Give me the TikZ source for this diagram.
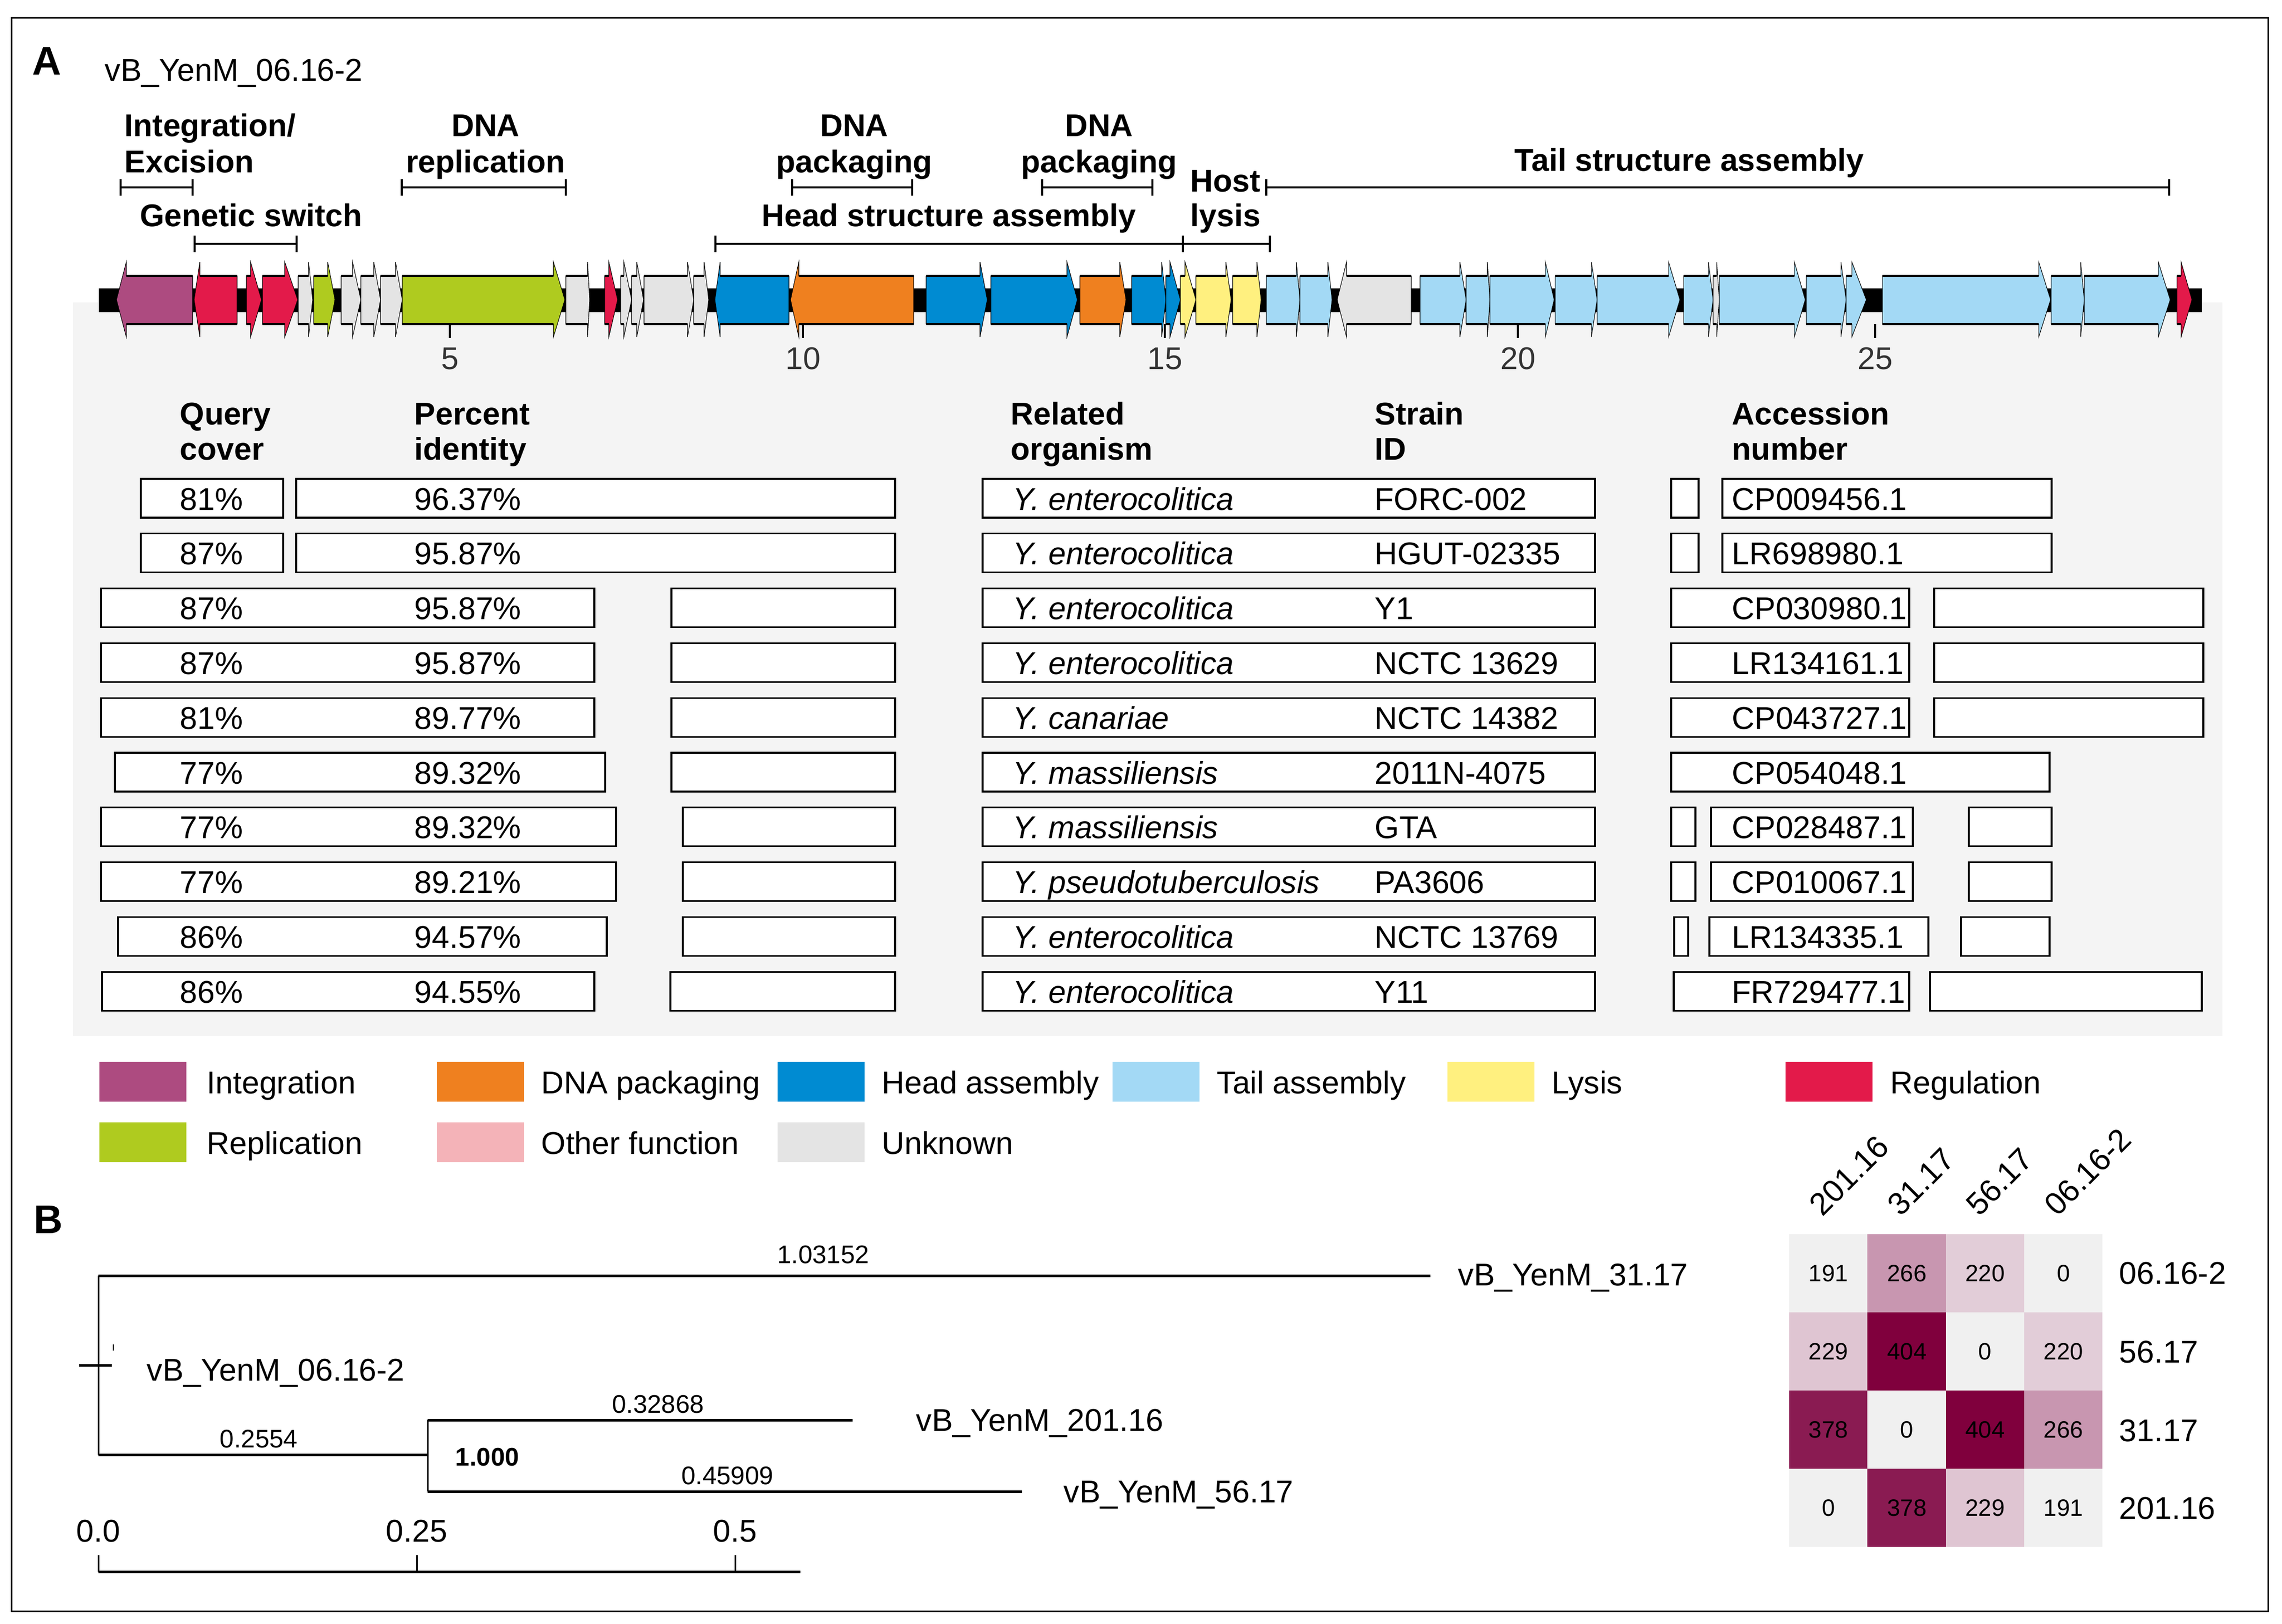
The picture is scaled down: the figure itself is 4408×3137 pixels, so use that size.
\documentclass[tikz,border=0pt]{standalone}
\usepackage{fontspec}
\setmainfont{Liberation Sans}
\definecolor{cInt}{HTML}{AD4B80}
\definecolor{cPack}{HTML}{EF801F}
\definecolor{cHead}{HTML}{008BD2}
\definecolor{cTail}{HTML}{A3D9F5}
\definecolor{cLys}{HTML}{FFF07F}
\definecolor{cReg}{HTML}{E31A4A}
\definecolor{cRep}{HTML}{AFCB1F}
\definecolor{cOth}{HTML}{F4B3B8}
\definecolor{cUnk}{HTML}{E4E4E4}
\definecolor{panelbg}{HTML}{F4F4F4}
\definecolor{hmZ}{HTML}{F0F0F0}
\definecolor{hmA}{HTML}{C896B0}
\definecolor{hmB}{HTML}{E2CDD8}
\definecolor{hmC}{HTML}{DFC5D2}
\definecolor{hmD}{HTML}{80003D}
\definecolor{hmE}{HTML}{8A1B52}
\newcommand\mysize{\fontsize{17.3}{20}\selectfont}
\newcommand\smallsz{\fontsize{14}{16}\selectfont}
\newcommand\hmsz{\fontsize{13}{15}\selectfont}
\newcommand\gene[4]{%
  \fill[#4] (#1,533) -- (#2,533) -- (#2,506) -- (#3,579) -- (#2,651) -- (#2,626) -- (#1,626) -- cycle;
  \draw[geneedge] (#1,533) -- (#2,533) -- (#2,506) -- (#3,579) -- (#2,651) -- (#2,626) -- (#1,626) -- cycle;
  \draw[genebody] (#1,533) -- (#2,533) (#1,626) -- (#2,626);
}
\newcommand\bracketline[3]{%
  \draw[brk] (#1,#3-16) -- (#1,#3+16) (#1,#3) -- (#2,#3) (#2,#3-16) -- (#2,#3+16);
}
\tikzset{
  lbl/.style={font=\mysize, inner sep=0pt},
  blbl/.style={font=\mysize\bfseries, inner sep=0pt},
  slbl/.style={font=\smallsz, inner sep=0pt},
  geneedge/.style={draw=black, line width=0.3pt, line join=miter},
  genebody/.style={draw=black, line width=0.42mm},
  brk/.style={draw=black, line width=0.42mm},
  tbx/.style={draw=black, fill=white, line width=0.32mm},
  tickln/.style={draw=black, line width=0.35mm},
  hbranch/.style={draw=black, line width=0.5mm},
  vbranch/.style={draw=black, line width=0.3mm},
}
\begin{document}
\begin{tikzpicture}[x=0.1mm,y=-0.1mm]
\useasboundingbox (0,0) rectangle (4408,3137);
\fill[white] (0,0) rectangle (4408,3137);
\fill[panelbg] (141,584) rectangle (4293,2001);
\draw[line width=0.3mm] (22,34) rectangle (4381,3112);

% panel letters and title
\node[font=\fontsize{22}{24}\selectfont\bfseries, inner sep=0pt] (letA) at (90,118) {A};
\node[font=\fontsize{22}{24}\selectfont\bfseries, inner sep=0pt] (letB) at (93,2356) {B};
\node[lbl, anchor=base west] (title) at (202,156) {vB\_YenM\_06.16-2};

% genome backbone
\fill[black] (191,557) rectangle (4253,603);

% genes: start, head base, tip, colour
\gene{372}{244}{225}{cInt}
\gene{458}{386}{375}{cReg}
\gene{476}{484}{505}{cReg}
\gene{507}{550}{575}{cReg}
\gene{576}{596}{604}{cUnk}
\gene{606}{633}{647}{cRep}
\gene{659}{681}{697}{cUnk}
\gene{697}{722}{735}{cUnk}
\gene{735}{764}{777}{cUnk}
\gene{777}{1069}{1091}{cRep}
\gene{1093}{1135}{1139}{cUnk}
\gene{1168}{1176}{1193}{cReg}
\gene{1199}{1205}{1220}{cUnk}
\gene{1220}{1230}{1243}{cUnk}
\gene{1244}{1328}{1340}{cUnk}
\gene{1340}{1360}{1369}{cUnk}
\gene{1524}{1391}{1381}{cHead}
\gene{1765}{1543}{1527}{cPack}
\gene{1789}{1893}{1907}{cHead}
\gene{1914}{2061}{2081}{cHead}
\gene{2086}{2163}{2175}{cPack}
\gene{2186}{2244}{2252}{cHead}
\gene{2252}{2260}{2280}{cHead}
\gene{2280}{2289}{2310}{cLys}
\gene{2310}{2368}{2378}{cLys}
\gene{2381}{2428}{2436}{cLys}
\gene{2446}{2504}{2511}{cTail}
\gene{2511}{2565}{2573}{cTail}
\gene{2726}{2601}{2583}{cUnk}
\gene{2743}{2820}{2832}{cTail}
\gene{2832}{2873}{2878}{cTail}
\gene{2878}{2985}{3002}{cTail}
\gene{3004}{3074}{3085}{cTail}
\gene{3085}{3223}{3245}{cTail}
\gene{3252}{3300}{3309}{cTail}
\gene{3309}{3316}{3321}{cUnk}
\gene{3321}{3466}{3487}{cTail}
\gene{3489}{3556}{3566}{cTail}
\gene{3566}{3577}{3605}{cTail}
\gene{3636}{3938}{3961}{cTail}
\gene{3962}{4019}{4026}{cTail}
\gene{4026}{4169}{4192}{cTail}
\gene{4205}{4213}{4234}{cReg}

% scale ticks
\foreach \x/\t in {869/5,1551/10,2250/15,2932/20,3622/25}{
  \draw[tickln] (\x,626) -- (\x,653);
  \node[lbl, text=black!80, anchor=base] (tk\t) at (\x,713) {\t};
}

% functional module brackets
\bracketline{233}{372}{362}
\bracketline{776}{1093}{362}
\bracketline{1530}{1762}{362}
\bracketline{2013}{2226}{362}
\bracketline{2446}{4190}{362}
\bracketline{376}{573}{471}
\bracketline{1382}{2285}{471}
\bracketline{2285}{2453}{471}

\node[blbl, anchor=base west] (intA) at (240,263) {Integration/};
\node[blbl, anchor=base west] (intB) at (240,333) {Excision};
\node[blbl, anchor=base] (repA) at (938,263) {DNA};
\node[blbl, anchor=base] (repB) at (938,333) {replication};
\node[blbl, anchor=base] (gsw) at (485,437) {Genetic switch};
\node[blbl, anchor=base] (pk1A) at (1650,263) {DNA};
\node[blbl, anchor=base] (pk1B) at (1650,333) {packaging};
\node[blbl, anchor=base] (pk2A) at (2123,263) {DNA};
\node[blbl, anchor=base] (pk2B) at (2123,333) {packaging};
\node[blbl, anchor=base] (head) at (1833,437) {Head structure assembly};
\node[blbl, anchor=base west] (hostA) at (2299,370) {Host};
\node[blbl, anchor=base west] (hostB) at (2299,437) {lysis};
\node[blbl, anchor=base] (tail) at (3263,330) {Tail structure assembly};

% table headers
\node[blbl, anchor=base west] (h1a) at (347,820) {Query};
\node[blbl, anchor=base west] (h1b) at (347,888) {cover};
\node[blbl, anchor=base west] (h2a) at (800,820) {Percent};
\node[blbl, anchor=base west] (h2b) at (800,888) {identity};
\node[blbl, anchor=base west] (h3a) at (1952,820) {Related};
\node[blbl, anchor=base west] (h3b) at (1952,888) {organism};
\node[blbl, anchor=base west] (h4a) at (2655,820) {Strain};
\node[blbl, anchor=base west] (h4b) at (2655,888) {ID};
\node[blbl, anchor=base west] (h5a) at (3345,820) {Accession};
\node[blbl, anchor=base west] (h5b) at (3345,888) {number};

% table boxes
\foreach \a/\b/\i in {272/547/1,572/1729/1,272/547/2,572/1729/2,
  195/1148/3,1297/1729/3,195/1148/4,1297/1729/4,195/1148/5,1297/1729/5,
  222/1169/6,1297/1729/6,195/1190/7,1319/1729/7,195/1190/8,1319/1729/8,
  228/1172/9,1319/1729/9,197/1148/10,1295/1729/10,
  3228/3281/1,3327/3963/1,3228/3281/2,3327/3963/2,
  3228/3688/3,3736/4256/3,3228/3688/4,3736/4256/4,3228/3688/5,3736/4256/5,
  3228/3959/6,
  3228/3275/7,3305/3695/7,3803/3963/7,3228/3275/8,3305/3695/8,3803/3963/8,
  3234/3261/9,3302/3725/9,3788/3959/9,3233/3688/10,3728/4253/10}{
  \pgfmathsetmacro\tp{925+(\i-1)*105.8}
  \draw[tbx] (\a,\tp) rectangle (\b,\tp+75);
}
\foreach \i in {1,...,10}{
  \pgfmathsetmacro\tp{925+(\i-1)*105.8}
  \draw[tbx] (1898,\tp) rectangle (3081,\tp+75);
}

% table texts
\foreach \i/\qc/\pid/\org/\st/\acc in {
  1/81/96.37/enterocolitica/FORC-002/CP009456.1,
  2/87/95.87/enterocolitica/HGUT-02335/LR698980.1,
  3/87/95.87/enterocolitica/Y1/CP030980.1,
  4/87/95.87/enterocolitica/NCTC 13629/LR134161.1,
  5/81/89.77/canariae/NCTC 14382/CP043727.1,
  6/77/89.32/massiliensis/2011N-4075/CP054048.1,
  7/77/89.32/massiliensis/GTA/CP028487.1,
  8/77/89.21/pseudotuberculosis/PA3606/CP010067.1,
  9/86/94.57/enterocolitica/NCTC 13769/LR134335.1,
  10/86/94.55/enterocolitica/Y11/FR729477.1}{
  \pgfmathsetmacro\bl{925+(\i-1)*105.8+60}
  \node[lbl, anchor=base west] (qc\i) at (347,\bl) {\qc\%};
  \node[lbl, anchor=base west] (pi\i) at (800,\bl) {\pid\%};
  \node[lbl, anchor=base west] (org\i) at (1956,\bl) {\textit{Y. \org}};
  \node[lbl, anchor=base west] (st\i) at (2655,\bl) {\st};
  \node[lbl, anchor=base west] (acc\i) at (3345,\bl) {\acc};
}

% legend
\foreach \sx/\tx/\yy/\col/\txt/\nm in {
  192/399/0/cInt/Integration/lg1, 844/1045/0/cPack/DNA packaging/lg2,
  1502/1703/0/cHead/Head assembly/lg3, 2149/2350/0/cTail/Tail assembly/lg4,
  2796/2997/0/cLys/Lysis/lg5, 3449/3651/0/cReg/Regulation/lg6,
  192/399/1/cRep/Replication/lg7, 844/1045/1/cOth/Other function/lg8,
  1502/1703/1/cUnk/Unknown/lg9}{
  \pgfmathsetmacro\ty{2051+\yy*117}
  \fill[\col] (\sx,\ty) rectangle (\sx+168,\ty+77);
  \node[lbl, anchor=base west] (\nm) at (\tx,\ty+61) {\txt};
}

% tree
\coordinate (rootT) at (190,2464);
\coordinate (rootB) at (190,2810);
\coordinate (tip31) at (2763,2464);
\coordinate (nodeM) at (826,2810);
\coordinate (nodeT) at (826,2743);
\coordinate (nodeB) at (826,2881);
\coordinate (tip201) at (1647,2743);
\coordinate (tip56) at (1974,2881);
\draw[vbranch] (rootT) -- (rootB);
\draw[hbranch] (rootT) -- (tip31);
\draw[hbranch] (rootB) -- (nodeM);
\draw[vbranch] (nodeT) -- (nodeB);
\draw[hbranch] (nodeT) -- (tip201);
\draw[hbranch] (nodeB) -- (tip56);
\coordinate (rtL) at (153,2637);
\coordinate (rtR) at (216,2637);
\draw[hbranch] (rtL) -- (rtR);
\coordinate (dotA) at (219,2597);
\coordinate (dotB) at (219,2609);
\draw[line width=0.25mm] (dotA) -- (dotB);

\node[slbl] (bl1) at (1590,2424) {1.03152};
\node[slbl] (bl2) at (1271,2713) {0.32868};
\node[slbl] (bl3) at (500,2780) {0.2554};
\node[slbl, anchor=west, font=\smallsz\bfseries] (bl4) at (879,2815) {1.000};
\node[slbl] (bl5) at (1405,2851) {0.45909};
\node[lbl, anchor=west] (lf31) at (2816,2468) {vB\_YenM\_31.17};
\node[lbl, anchor=west] (lf06) at (283,2652) {vB\_YenM\_06.16-2};
\node[lbl, anchor=west] (lf201) at (1769,2749) {vB\_YenM\_201.16};
\node[lbl, anchor=west] (lf56) at (2054,2887) {vB\_YenM\_56.17};

% tree scale
\coordinate (scL) at (190,3036);
\coordinate (scR) at (1546,3036);
\draw[hbranch] (scL) -- (scR);
\foreach \x/\t/\nm in {190/0.0/s0,805/0.25/s1,1420/0.5/s2}{
  \draw[vbranch] (\x,3004) -- (\x,3036);
  \node[lbl] (\nm) at (\x,2958) {\t};
}

% heatmap
\foreach \r/\c/\v/\col in {
  0/0/191/hmZ,0/1/266/hmA,0/2/220/hmB,0/3/0/hmZ,
  1/0/229/hmC,1/1/404/hmD,1/2/0/hmZ,1/3/220/hmB,
  2/0/378/hmE,2/1/0/hmZ,2/2/404/hmD,2/3/266/hmA,
  3/0/0/hmZ,3/1/378/hmE,3/2/229/hmC,3/3/191/hmZ}{
  \pgfmathsetmacro\cx{3456+\c*151.3}
  \pgfmathsetmacro\cy{2384+\r*151}
  \fill[\col] (\cx,\cy) rectangle (\cx+151.3,\cy+151);
  \node[font=\hmsz, inner sep=0pt] (hm\r\c) at (\cx+76,\cy+76) {\v};
}
\foreach \t/\y/\nm in {06.16-2/2460/rw1,56.17/2612/rw2,31.17/2764/rw3,201.16/2914/rw4}{
  \node[lbl, anchor=west] (\nm) at (4093,\y) {\t};
}
\foreach \t/\c/\nm in {201.16/0/cl1,31.17/1/cl2,56.17/2/cl3,06.16-2/3/cl4}{
  \pgfmathsetmacro\cx{3456+\c*151.3+76-12}
  \node[lbl, anchor=base west, rotate=45] (\nm) at (\cx,2352) {\t};
}
\end{tikzpicture}
\end{document}
